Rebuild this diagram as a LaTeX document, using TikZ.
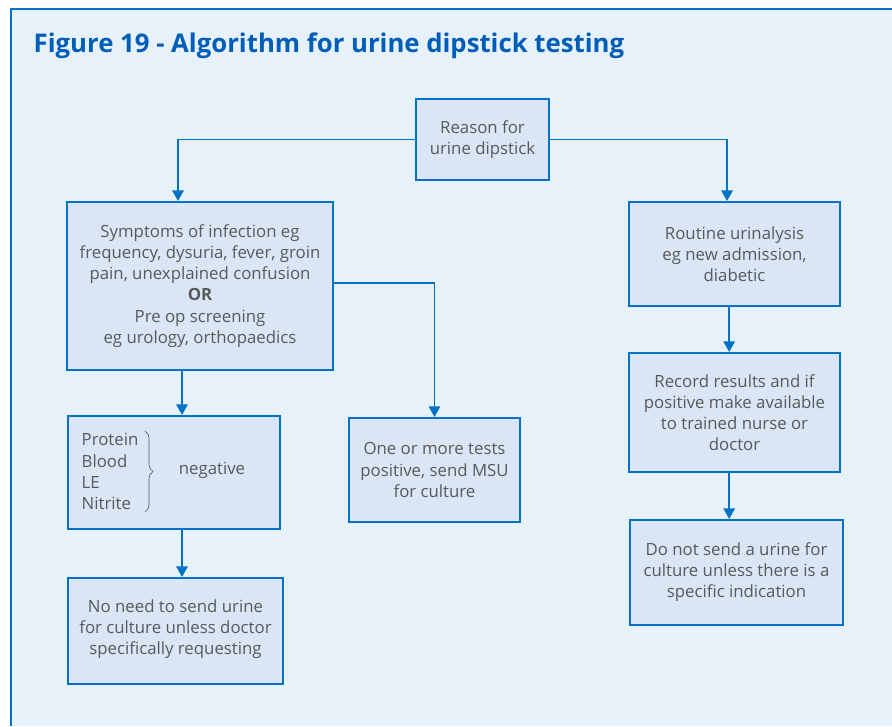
\documentclass[tikz,border=0pt]{standalone}
\usepackage{fontspec}
\setmainfont{Open Sans}
\usetikzlibrary{arrows.meta,positioning,decorations.pathreplacing}
\definecolor{framebg}{RGB}{231,241,249}
\definecolor{boxfill}{RGB}{218,230,245}
\definecolor{nhsblue}{RGB}{0,114,198}
\definecolor{titleblue}{RGB}{0,94,184}
\definecolor{bodygrey}{RGB}{88,89,91}

\begin{document}
\begin{tikzpicture}[x=0.75pt,y=-0.75pt,
    every node/.style={font=\fontsize{12.6}{15.8}\selectfont,text=bodygrey,align=center},
    stepbox/.style={draw=nhsblue,fill=boxfill,line width=1.5pt,inner sep=0pt},
    flow/.style={draw=nhsblue,line width=1.4pt,-{Triangle[length=8pt,width=8.5pt]}}]
  \useasboundingbox (0,0) rectangle (892,726);
  % frame
  \fill[framebg] (11,9) rectangle (892,726);
  \draw[nhsblue,line width=1pt] (11,726) -- (11,9) -- (892,9);
  \node[anchor=west,font=\fontsize{19.3}{22}\selectfont\bfseries,text=titleblue] (title) at (29,46) {Figure 19 - Algorithm for urine dipstick testing};

  % boxes
  \node[stepbox,minimum width=99.75pt,minimum height=60.75pt] (reason) at (482.5,139.5) {Reason for\\urine dipstick};
  \node[stepbox,minimum width=199.5pt,minimum height=126pt] (symptoms) at (200,286)
    {Symptoms of infection eg\\frequency, dysuria, fever, groin\\pain, unexplained confusion\\\textbf{OR}\\Pre op screening\\eg urology, orthopaedics};
  \node[stepbox,minimum width=158.25pt,minimum height=78pt] (routine) at (734.5,254) {Routine urinalysis\\eg new admission,\\diabetic};
  \node[stepbox,minimum width=159pt,minimum height=84.75pt] (tests) at (174,472.5) {};
  \node[stepbox,minimum width=128.25pt,minimum height=78pt] (positive) at (434.5,470) {One or more tests\\positive, send MSU\\for culture};
  \node[stepbox,minimum width=158.25pt,minimum height=89.25pt] (record) at (734.5,412.5) {Record results and if\\positive make available\\to trained nurse or\\doctor};
  \node[stepbox,minimum width=159.75pt,minimum height=78.75pt] (nosend) at (736.5,572.5) {Do not send a urine for\\culture unless there is a\\specific indication};
  \node[stepbox,minimum width=161.25pt,minimum height=79.5pt,text depth=6pt] (noneed) at (175.5,631) {No need to send urine\\for culture unless doctor\\specifically requesting};

  % inside the dipstick box
  \node[anchor=west,align=left] (tlist) at (77,471.5) {Protein\\Blood\\LE\\Nitrite};
  \node (negative) at (212,470) {negative};
  \draw[bodygrey,line width=0.5pt,decorate,decoration={brace,amplitude=6pt}] (145,431) -- (145,512);

  % connectors
  \draw[flow] (reason.west) -| ([xshift=-16.5pt]symptoms.north);
  \draw[flow] (reason.east) -| ([xshift=-5.6pt]routine.north);
  \draw[flow] ([xshift=-13.5pt]symptoms.south) -- ([xshift=-13.5pt]symptoms.south |- tests.north);
  \draw[flow] ([yshift=2.25pt]symptoms.east) -| (positive.north);
  \draw[flow] ([xshift=-4pt]routine.south) -- ([xshift=-4pt]routine.south |- record.north);
  \draw[flow] ([xshift=-4pt]record.south) -- ([xshift=-4pt]record.south |- nosend.north);
  \draw[flow] ([xshift=6pt]tests.south) -- ([xshift=6pt]tests.south |- noneed.north);
\end{tikzpicture}
\end{document}
